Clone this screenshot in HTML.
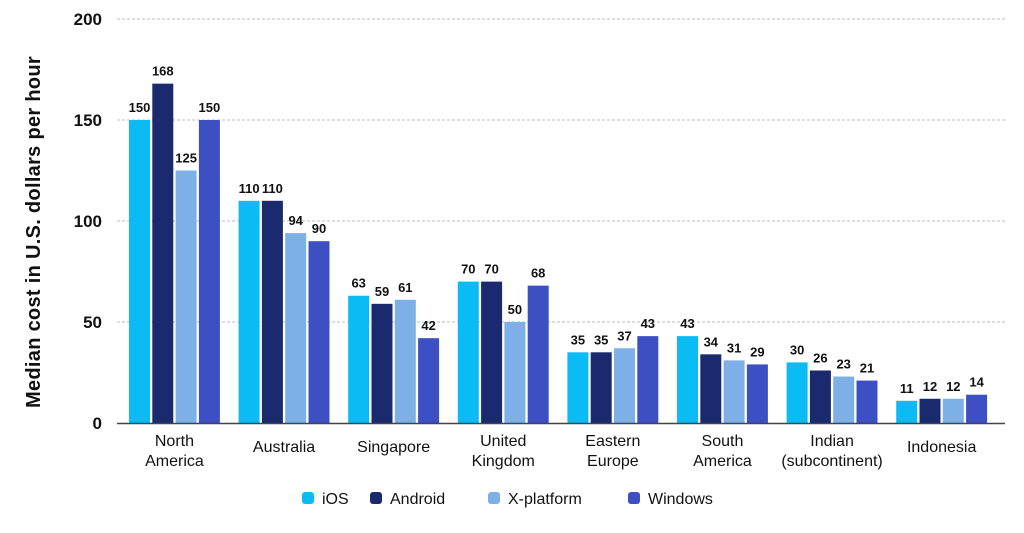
<!DOCTYPE html>
<html><head><meta charset="utf-8">
<style>
body{margin:0;background:#fff;width:1024px;height:528px;overflow:hidden;font-family:"Liberation Sans",sans-serif}
</style></head>
<body>
<svg id="chart" width="1024" height="528" xmlns="http://www.w3.org/2000/svg" font-family="Liberation Sans, sans-serif">
<g id="grid"></g>
<g id="bars"></g>
<g id="labels"></g>
<g id="xlabels"></g>
<g id="yticks"></g>
<text transform="translate(40,232) rotate(-90)" text-anchor="middle" font-size="20" fill="#111" font-weight="bold" letter-spacing="0.3">Median cost in U.S. dollars per hour</text>
<line x1="117" y1="423.5" x2="1005" y2="423.5" stroke="#444" stroke-width="1.5"/>
<g id="legend"></g>
</svg>
<script>
const categories=[["North","America"],["Australia"],["Singapore"],["United","Kingdom"],["Eastern","Europe"],["South","America"],["Indian","(subcontinent)"],["Indonesia"]];
const seriesNames=["iOS","Android","X-platform","Windows"];
const iosValues=[150,110,63,70,35,43,30,11];
const androidValues=[168,110,59,70,35,34,26,12];
const xplatformValues=[125,94,61,50,37,31,23,12];
const windowsValues=[150,90,42,68,43,29,21,14];
const yTicks=[0,50,100,150,200];
const series=[iosValues,androidValues,xplatformValues,windowsValues];
const colors=["#0bbcf4","#1b2a6e","#7cb0e6","#3c50c3"];
const NS="http://www.w3.org/2000/svg";
const y0=423,yScale=404/200;
const yPos=v=>y0-v*yScale;
const gStart=129,gPitch=109.6,bw=21,bStep=23.3;
const xPos=(ci,si)=>gStart+ci*gPitch+si*bStep;
function mk(t,a,p){const e=document.createElementNS(NS,t);for(const k in a)e.setAttribute(k,a[k]);p.appendChild(e);return e;}
const grid=document.getElementById('grid'),yt=document.getElementById('yticks');
yTicks.forEach(v=>{
 if(v>0){const l=mk('line',{x1:117,x2:1005,y1:yPos(v),y2:yPos(v),stroke:'#bbb','stroke-dasharray':'3,2','stroke-width':1},grid);
 
 }
 const t=mk('text',{x:102,y:yPos(v)+6,'text-anchor':'end','font-size':17,fill:'#111','font-weight':'bold'},yt);
 t.textContent=v;
 
 
});
const bars=document.getElementById('bars'),lab=document.getElementById('labels'),xl=document.getElementById('xlabels');
categories.forEach((c,ci)=>{
 series.forEach((s,si)=>{
  const x=xPos(ci,si),y=yPos(s[ci]);
  const r=mk('rect',{x:x,y:y,width:bw,height:y0-y,fill:colors[si]},bars);
  
  
  const t=mk('text',{x:x+bw/2,y:y-8,'text-anchor':'middle','font-size':13,fill:'#111','font-weight':'bold'},lab);
  t.textContent=s[ci];
  
  
 });
 const cx=xPos(ci,0)+(3*bStep+bw)/2;
 c.forEach((line,li)=>{
  const yy=c.length===1?452:446+li*20;
  const t=mk('text',{x:cx,y:yy,'text-anchor':'middle','font-size':16,fill:'#111'},xl);
  t.textContent=line;
  
  
 });
});
const leg=document.getElementById('legend');
const legX=[302,370,488,628];
seriesNames.forEach((n,i)=>{
 const r=mk('rect',{x:legX[i],y:492,width:12,height:12,rx:3,fill:colors[i]},leg);
 
 
 const t=mk('text',{x:legX[i]+20,y:504,'font-size':16,fill:'#111'},leg);
 t.textContent=n;
 
 
});
</script>
</body></html>
